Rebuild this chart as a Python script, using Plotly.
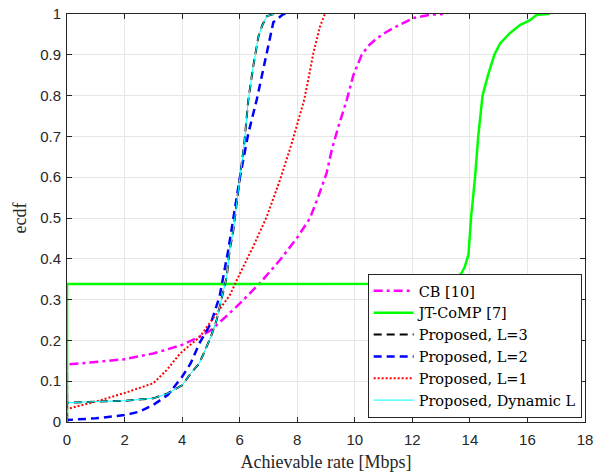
import plotly.graph_objects as go

# CB [10]
cb_x = [0, 0, 1, 2, 3, 4, 4.6, 5, 5.5, 6, 6.71, 7.4, 7.98, 8.44, 8.73, 9.02, 9.2, 9.43, 9.72, 9.95, 10.24, 10.5, 10.76, 11.1, 11.46, 12.03, 12.6, 13.07]
cb_y = [0, 0.141, 0.147, 0.154, 0.168, 0.189, 0.209, 0.225, 0.257, 0.29, 0.341, 0.397, 0.45, 0.499, 0.552, 0.61, 0.667, 0.724, 0.789, 0.85, 0.9, 0.924, 0.94, 0.956, 0.97, 0.99, 0.998, 1.0]

# JT-CoMP [7]
jt_x = [0, 0, 4, 8, 12.6, 13.0, 13.3, 13.54, 13.7, 13.82, 13.9, 13.95, 14.04, 14.18, 14.29, 14.44, 14.63, 14.85, 15.05, 15.39, 15.74, 16.09, 16.32, 16.78]
jt_y = [0, 0.338, 0.338, 0.338, 0.339, 0.341, 0.345, 0.353, 0.364, 0.38, 0.397, 0.41, 0.5, 0.6, 0.7, 0.8, 0.85, 0.9, 0.928, 0.953, 0.973, 0.985, 0.998, 1.0]

# Proposed, L=3
l3_x = [0, 0, 1, 2, 3, 3.5, 4, 4.3, 4.6, 4.8, 5, 5.2, 5.4, 5.55, 5.65, 5.78, 6.01, 6.16, 6.3, 6.47, 6.65, 6.8, 6.95, 7.2]
l3_y = [0, 0.047, 0.05, 0.052, 0.058, 0.07, 0.09, 0.119, 0.144, 0.176, 0.209, 0.25, 0.307, 0.356, 0.42, 0.47, 0.6, 0.683, 0.789, 0.871, 0.944, 0.975, 0.995, 1.0]

# Proposed, L=2
l2_x = [0, 0, 1, 2, 2.5, 3, 3.5, 4, 4.3, 4.6, 5, 5.3, 5.6, 5.72, 6.01, 6.3, 6.59, 6.94, 7.17, 7.52, 7.7]
l2_y = [0, 0.005, 0.009, 0.017, 0.025, 0.042, 0.066, 0.111, 0.144, 0.193, 0.242, 0.307, 0.42, 0.47, 0.6, 0.707, 0.789, 0.904, 0.98, 1.0, 1.0]

# Proposed, L=1
l1_x = [0, 0, 1, 2, 3, 3.46, 3.93, 4.62, 5.2, 5.66, 6.01, 6.47, 6.94, 7.4, 7.81, 8.04, 8.24, 8.4, 8.56, 8.79, 8.9, 8.96]
l1_y = [0, 0.032, 0.05, 0.071, 0.095, 0.127, 0.168, 0.209, 0.266, 0.311, 0.364, 0.43, 0.503, 0.593, 0.683, 0.74, 0.789, 0.845, 0.904, 0.969, 0.99, 1.0]

# Proposed, Dynamic L
dyn_x = [0, 0, 1, 2, 3, 3.5, 4, 4.3, 4.6, 4.8, 5, 5.2, 5.4, 5.55, 5.65, 5.78, 6.01, 6.16, 6.3, 6.47, 6.65, 6.8, 6.95, 7.2]
dyn_y = [0, 0.047, 0.05, 0.052, 0.058, 0.07, 0.09, 0.119, 0.144, 0.176, 0.209, 0.25, 0.307, 0.356, 0.42, 0.47, 0.6, 0.683, 0.789, 0.871, 0.944, 0.975, 0.995, 1.0]

x_ticks = [0, 2, 4, 6, 8, 10, 12, 14, 16, 18]
y_ticks = [0, 0.1, 0.2, 0.3, 0.4, 0.5, 0.6, 0.7, 0.8, 0.9, 1]

fig = go.Figure()
fig.add_trace(go.Scatter(x=cb_x, y=cb_y, mode="lines", name="CB [10]",
                         line=dict(color="#ff00ff", width=2.5, dash="9px,4px,3px,4px")))
fig.add_trace(go.Scatter(x=jt_x, y=jt_y, mode="lines", name="JT-CoMP [7]",
                         line=dict(color="#00ff00", width=2.5)))
fig.add_trace(go.Scatter(x=l3_x, y=l3_y, mode="lines", name="Proposed, L=3",
                         line=dict(color="#000000", width=2, dash="8px,5px")))
fig.add_trace(go.Scatter(x=l2_x, y=l2_y, mode="lines", name="Proposed, L=2",
                         line=dict(color="#0000ff", width=2.5, dash="8px,5px")))
fig.add_trace(go.Scatter(x=l1_x, y=l1_y, mode="lines", name="Proposed, L=1",
                         line=dict(color="#ff0000", width=2, dash="2px,2px")))
fig.add_trace(go.Scatter(x=dyn_x, y=dyn_y, mode="lines", name="Proposed, Dynamic L",
                         line=dict(color="#00ffff", width=1)))

axis_common = dict(
    showline=True, linecolor="#262626", linewidth=1, mirror="ticks",
    ticks="inside", ticklen=5, tickcolor="#262626",
    showgrid=True, gridcolor="#e6e6e6", gridwidth=1, zeroline=False,
    automargin=False,
    tickfont=dict(family="Liberation Sans, Arial, sans-serif", size=15, color="#262626"),
)

fig.update_xaxes(range=[0, 18], tickvals=x_ticks, ticktext=[str(v) for v in x_ticks],
                 ticklabelstandoff=4,
                 title=dict(text="Achievable rate [Mbps]", standoff=8,
                            font=dict(family="Liberation Serif, serif", size=18, color="#262626")),
                 **axis_common)
fig.update_yaxes(range=[0, 1], tickvals=y_ticks, ticktext=[("%g" % v) for v in y_ticks],
                 ticklabelstandoff=2,
                 title=dict(text="ecdf", standoff=8,
                            font=dict(family="Liberation Serif, serif", size=18, color="#262626")),
                 **axis_common)

fig.update_layout(
    width=608, height=472,
    margin=dict(l=67, r=23, t=14, b=50),
    paper_bgcolor="white", plot_bgcolor="white",
    showlegend=True,
    legend=dict(x=0.9936, y=0.01, xanchor="right", yanchor="bottom",
                bgcolor="white", bordercolor="#262626", borderwidth=1,
                font=dict(family="DejaVu Serif, serif", size=14.5, color="#000000"),
                tracegroupgap=0, itemwidth=40),
)

fig.write_html("out.html")
